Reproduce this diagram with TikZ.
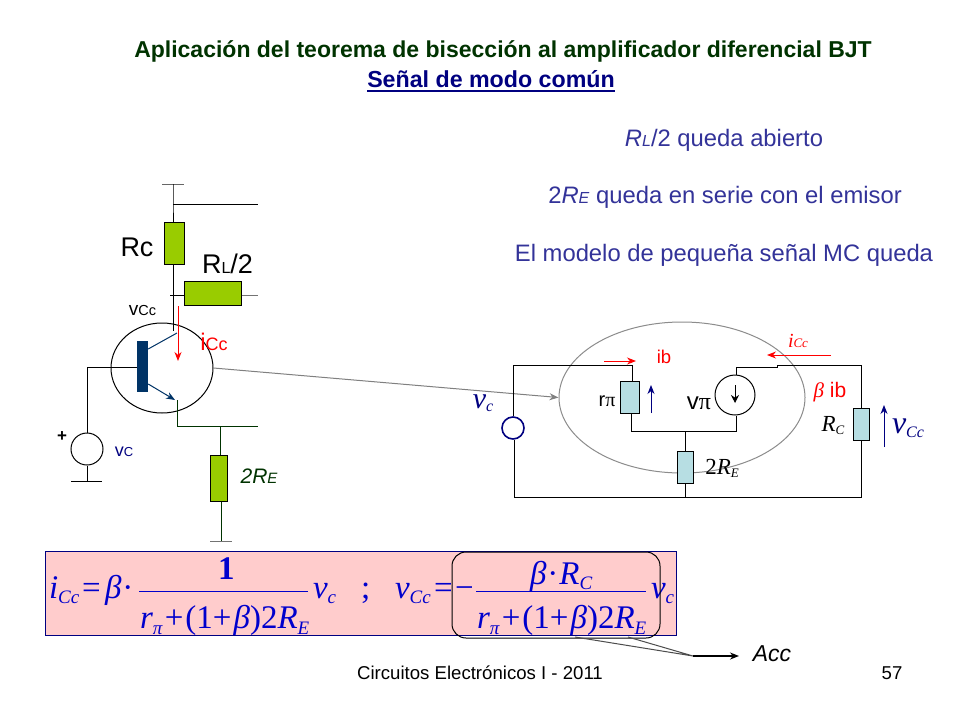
\documentclass[tikz,border=0pt]{standalone}
\usepackage{fontspec}
\setmainfont{Liberation Sans}
\newfontfamily\tms{Liberation Serif}
\usetikzlibrary{arrows.meta,shapes.geometric}
\definecolor{rgreen}{HTML}{99CC00}
\definecolor{rblue}{HTML}{B7DEE3}
\definecolor{navy}{HTML}{003366}
\definecolor{dnavy}{HTML}{000080}
\definecolor{dgreen}{HTML}{003300}
\definecolor{slate}{HTML}{333399}
\definecolor{eqblue}{HTML}{0000CC}
\definecolor{pinkb}{HTML}{FFCCCC}
\newcommand{\fs}[1]{\fontsize{#1}{#1}\selectfont}
\newcommand{\sbs}[2]{\raisebox{-#1pt}{\fs{19}#2}}
\newcommand{\denomx}{\tms\fs{33}\textit{r}\sbs{6}{\textit{π}}\kern2pt+\kern2pt(1+\kern2pt\textit{β})2\textit{R}\sbs{6}{\textit{E}}}
\tikzset{
  wire/.style={draw=black,line width=1pt},
  gwire/.style={draw=black!55,line width=1pt},
  grres/.style={rectangle,draw=black,fill=rgreen,line width=1pt,inner sep=0pt},
  blres/.style={rectangle,draw=black,fill=rblue,line width=1pt,inner sep=0pt},
  lbl/.style={inner sep=0pt,outer sep=0pt},
  eq/.style={lbl,anchor=base west,text=eqblue,font=\tms\fs{33}},
  tip/.style={-{Stealth[length=9pt,width=7pt]}},
  redarr/.style={tip,draw=red,line width=1pt},
  navarr/.style={tip,draw=dnavy,line width=1pt}
}
\begin{document}
\begin{tikzpicture}[x=1pt,y=-1pt]
\useasboundingbox (0,0) rectangle (960,720);
\fill[white] (0,0) rectangle (960,720);
% headings
\node[lbl,text=dgreen,font=\bfseries\fs{23}] (t1) at (503,51) {Aplicación del teorema de bisección al amplificador diferencial BJT};
\node[lbl,text=dnavy,font=\bfseries\fs{23.2}] (t2) at (491,79.5) {Señal de modo común};
\draw[dnavy,line width=1.3pt] (t2.south west)++(0,3) coordinate (ul) -- (ul -| t2.south east);
\node[lbl,text=slate,font=\fs{23.8}] (r1) at (724,140) {\textit{R\fs{16}L}/2 queda abierto};
\node[lbl,text=slate,font=\fs{23.8}] (r2) at (725,197) {2\textit{R\fs{16}E} queda en serie con el emisor};
\node[lbl,text=slate,font=\fs{23.8}] (r3) at (724,255) {El modelo de pequeña señal MC queda};
% left circuit
\coordinate (vtop) at (173,184);
\coordinate (vbl) at (162,184);
\coordinate (vbr) at (184,184);
\coordinate (j1) at (173,204);
\coordinate (j1e) at (258,204);
\coordinate (j2) at (173,295);
\coordinate (j2l) at (170,295);
\coordinate (rle) at (258,295);
\coordinate (cb) at (173,331);
\coordinate (bw) at (87,367);
\coordinate (em) at (177,400);
\coordinate (j3) at (177,426);
\coordinate (j3e) at (258,426);
\coordinate (j4) at (220,426);
\coordinate (gnd2) at (221,541);
\coordinate (gnd2l) at (210,541);
\coordinate (gnd2r) at (232,541);
\coordinate (gnd1) at (87,481);
\coordinate (gnd1l) at (71,481);
\coordinate (gnd1r) at (102,481);
\node[ellipse,draw=black,line width=1pt,minimum width=102pt,minimum height=90pt,inner sep=0pt] (q) at (162,368) {};
\node[rectangle,fill=navy,minimum width=11pt,minimum height=51pt,inner sep=0pt] (bar) at (142.5,366.5) {};
\node[grres,minimum width=20pt,minimum height=42pt] (rc) at (174,243) {};
\node[grres,minimum width=57pt,minimum height=24pt] (rl) at (212.5,293) {};
\node[grres,minimum width=17pt,minimum height=46pt] (re) at (218.5,478) {};
\node[circle,draw=black,line width=1pt,minimum size=32pt,inner sep=0pt] (vs) at (87,449) {};
\draw[draw=black!60,line width=1pt] (vbl) -- (vbr);
\draw[wire] (vtop) -- (j1) -- (rc.north -| j1);
\draw[wire] (j1) -- (j1e);
\draw[wire] (rc.south -| j1) -- (cb);
\draw[wire] (j2l) -- (rl.west |- j2l);
\draw[gwire] (rl.east |- rle) -- (rle);
\draw[wire] (bar.west |- bw) -- (bw) -- (vs.north);
\draw[wire] (vs.south) -- (gnd1);
\draw[wire] (gnd1l) -- (gnd1r);
\draw[navy,line width=1pt] (bar.east |- 0,349) -- (177,333);
\draw[navy,line width=1pt,tip] (bar.east |- 0,384) -- (175,400);
\draw[draw=dgreen,line width=1pt] (em) -- (j3) -- (j3e);
\draw[draw=dgreen,line width=1pt] (j4) -- (re.north -| j4);
\draw[draw=dgreen,line width=1pt] (re.south -| gnd2) -- (gnd2);
\draw[gwire] (gnd2l) -- (gnd2r);
\coordinate (ica) at (178,306);
\coordinate (icb) at (178,361);
\draw[redarr] (ica) -- (icb);
\node[lbl,font=\fs{27}] (lrc) at (137,247) {Rc};
\node[lbl,font=\fs{27}] (lrl) at (227.5,264) {R\fs{16}L\fs{27}/2};
\node[lbl,font=\fs{19}] (lvcc) at (142.5,311) {v\fs{14.5}Cc};
\node[lbl,font=\fs{24},text=red] (lic) at (214,342) {i\fs{18}Cc};
\node[lbl,font=\bfseries\fs{17}] (lpl) at (62,437) {+};
\node[lbl,font=\fs{18},text=dnavy] (lvc) at (124,452) {v\fs{13}C};
\node[lbl,font=\itshape\fs{21},text=dgreen] (lre) at (259,476) {2R\fs{15}E};
% right circuit
\node[ellipse,draw=black!45,line width=1pt,minimum width=246pt,minimum height=151pt,inner sep=0pt] (big) at (682,397.5) {};
\draw[draw=black!50,line width=1pt,tip] (q.east) -- (big.west);
\coordinate (tl) at (513,365);
\coordinate (bl) at (514,497);
\coordinate (tm) at (632,365);
\coordinate (tr) at (861,365);
\coordinate (br) at (861,497);
\coordinate (ml) at (631,431);
\coordinate (mr) at (736,431);
\coordinate (mc) at (685,431);
\coordinate (bm) at (685,497);
\coordinate (sw) at (736,367);
\coordinate (swe) at (777,367);
\node[circle,draw=dnavy,line width=1.6pt,fill=white,minimum size=22pt,inner sep=0pt] (vcs) at (513,428) {};
\node[blres,minimum width=19pt,minimum height=32pt] (rpi) at (629.5,397) {};
\node[blres,minimum width=16pt,minimum height=32pt] (r2e) at (685,467) {};
\node[blres,minimum width=16pt,minimum height=32pt] (rcc) at (861,424) {};
\node[circle,draw=black,line width=1pt,fill=white,minimum size=40pt,inner sep=0pt] (gm) at (735,395) {};
\draw[wire] (vcs.north) -- (tl) -- (tm) -- (rpi.north -| tm);
\draw[wire] (rpi.south -| ml) -- (ml) -- (mr) -- (gm.south -| mr);
\draw[wire] (gm.north -| sw) -- (sw) -- (swe) -- (777,365) -- (tr) -- (rcc.north);
\draw[wire] (rcc.south) -- (br) -- (bl) -- (vcs.south -| bl);
\draw[wire] (mc) -- (r2e.north);
\draw[wire] (r2e.south) -- (bm);
\coordinate (ga) at (735,385);
\coordinate (gb) at (735,403);
\draw[draw=black,line width=1pt,-{Stealth[length=8pt,width=8pt]}] (ga) -- (gb);
\coordinate (iba) at (604,361);
\coordinate (ibb) at (636,361);
\draw[redarr] (iba) -- (ibb);
\coordinate (vpa) at (651,413);
\coordinate (vpb) at (651,385);
\draw[navarr] (vpa) -- (vpb);
\coordinate (ira) at (831,355);
\coordinate (irb) at (767,355);
\draw[redarr] (ira) -- (irb);
\coordinate (vca) at (884,447);
\coordinate (vcb) at (884,405);
\draw[navarr] (vca) -- (vcb);
\node[lbl,font=\fs{18.5},text=red] (lib) at (664,357) {ib};
\node[lbl,font=\fs{20}] (lrp) at (607,401) {r\tms π};
\node[lbl,font=\fs{24}] (lvp) at (699,403) {v\tms π};
\node[lbl,text=red,font=\tms\itshape\fs{20}] (lic2) at (798,341) {i\fs{13}Cc};
\node[lbl,text=red,font=\fs{21}] (lbi) at (830,392) {{\tms\itshape β} ib};
\node[lbl,text=dnavy,font=\tms\itshape\fs{30}] (lvc2) at (483,403) {v\raisebox{-3pt}{\fs{16}c}};
\node[lbl,font=\tms\itshape\fs{23}] (lrc2) at (833,426) {R\raisebox{-3pt}{\fs{13}C}};
\node[lbl,font=\tms\itshape\fs{23}] (l2re) at (722,468) {{\upshape 2}R\raisebox{-3pt}{\fs{13}E}};
\node[lbl,text=dnavy,font=\tms\itshape\fs{32}] (lvcc2) at (908,428) {v\raisebox{-4pt}{\fs{16}Cc}};
% formula box
\node[rectangle,draw=dnavy,fill=pinkb,line width=1pt,minimum width=631pt,minimum height=84pt,inner sep=0pt] (box) at (360.5,593.5) {};
\node[eq] (e1) at (49,598) {\textit{i}\sbs{5}{\textit{Cc}}};
\node[eq] (e2) at (82,598) {=};
\node[eq] (e3) at (105,598) {\textit{β}\kern1pt·};
\node[eq,font=\tms\bfseries\fs{33}] (e4) at (218,579) {1};
\node[eq] (e5) at (140,628) {\denomx};
\node[eq] (e6) at (313,598) {\textit{v}\sbs{5}{\textit{c}}};
\node[eq] (e7) at (361,598) {;};
\node[eq] (e8) at (395,598) {\textit{v}\sbs{5}{\textit{Cc}}};
\node[eq] (e9) at (434,598) {=};
\node[eq] (e10) at (455,598) {−};
\node[eq] (e11) at (530,584) {\textit{β}\kern1pt·\kern1pt\textit{R}\sbs{5}{\textit{C}}};
\node[eq] (e12) at (477,628) {\denomx};
\node[eq] (e13) at (651,598) {\textit{v}\sbs{5}{\textit{c}}};
\coordinate (f1a) at (139,591);
\coordinate (f1b) at (308,591);
\coordinate (f2a) at (476,591);
\coordinate (f2b) at (646,591);
\draw[eqblue,line width=1pt] (f1a) -- (f1b);
\draw[eqblue,line width=1pt] (f2a) -- (f2b);
\node[rectangle,draw=black,rounded corners=14pt,line width=1pt,minimum width=208pt,minimum height=86pt,inner sep=0pt] (rr) at (556,595) {};
\coordinate (c1) at (575,637);
\coordinate (c2) at (628,637);
\coordinate (c3) at (693,656);
\coordinate (c4) at (739,656);
\draw[draw=black!70,line width=1pt] (c1) -- (c3) -- (c2);
\draw[draw=black,line width=1.5pt,tip] (c3) -- (c4);
\node[lbl,font=\itshape\fs{23}] (acc) at (772,654) {Acc};
\node[lbl,font=\fs{18.6}] (foot) at (480,673) {Circuitos Electrónicos I - 2011};
\node[lbl,font=\fs{18.6}] (num) at (892,673) {57};
\end{tikzpicture}
\end{document}
